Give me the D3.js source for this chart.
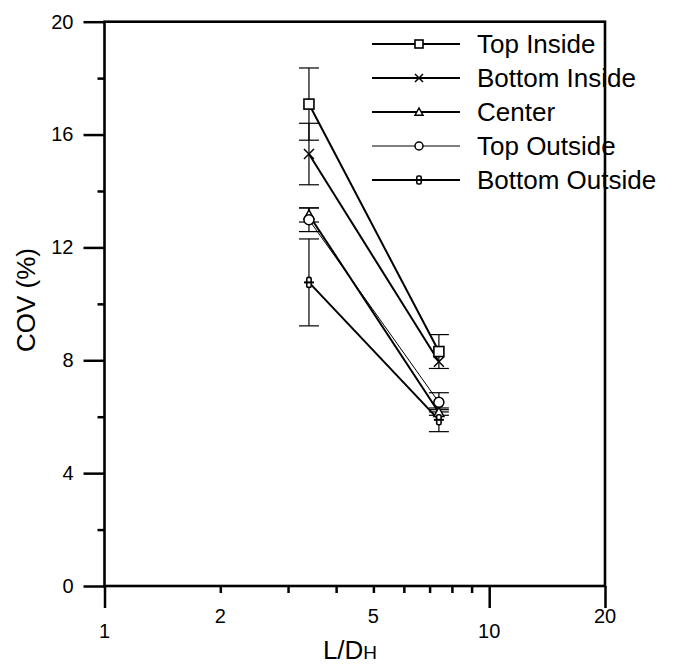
<!DOCTYPE html>
<html><head><meta charset="utf-8">
<script src="https://cdn.jsdelivr.net/npm/d3@7"></script>
<style>body{margin:0;background:#fff}svg{display:block}text{font-family:"Liberation Sans",Arial,sans-serif}</style>
</head><body>
<svg id="c" width="676" height="664"></svg>
<script>
// ---- data ----
const xVals = [3.4, 7.4];
const seriesNames = ["Top Inside","Bottom Inside","Center","Top Outside","Bottom Outside"];
const topInside = [17.08, 8.31];
const topInsideErr = [1.28, 0.6];
const bottomInside = [15.31, 7.95];
const bottomInsideErr = [1.09, 0];
const center = [13.15, 6.15];
const centerErr = [0.25, 0.1];
const topOutside = [12.98, 6.51];
const topOutsideErr = [0.42, 0.34];
const bottomOutside = [10.76, 5.89];
const bottomOutsideErr = [1.54, 0.42];
const xTicksMajor = [1, 10, 20];
const xTicksMinor = [2, 3, 4, 5, 6, 7, 8, 9];
const xLabelsLow = [1, 10];
const xLabelsHigh = [2, 5, 20];
const yTicksMajor = [0, 4, 8, 12, 16, 20];
const yTicksMinor = [2, 6, 10, 14, 18];

const series = [
  {name: seriesNames[0], v: topInside, e: topInsideErr, marker: "square", w: 2},
  {name: seriesNames[1], v: bottomInside, e: bottomInsideErr, marker: "x", w: 2},
  {name: seriesNames[2], v: center, e: centerErr, marker: "triangle", w: 2},
  {name: seriesNames[3], v: topOutside, e: topOutsideErr, marker: "circle", w: 1},
  {name: seriesNames[4], v: bottomOutside, e: bottomOutsideErr, marker: "plus", w: 2}
];

const svg = d3.select("#c");
const L = 104.5, R = 605, T = 21.7, B = 586;
const x = d3.scaleLog().domain([1, 20]).range([L, R]);
const y = d3.scaleLinear().domain([0, 20]).range([B, T]);

// frame
svg.append("rect").attr("x", L).attr("y", T).attr("width", R - L).attr("height", B - T)
  .attr("fill", "none").attr("stroke", "#000").attr("stroke-width", 2.6);

// y axis
const yMaj = svg.append("g").attr("transform", `translate(${L},0)`)
  .call(d3.axisLeft(y).tickValues(yTicksMajor).tickSize(21).tickPadding(10).tickFormat(d3.format("d")));
const yMin = svg.append("g").attr("transform", `translate(${L},0)`)
  .call(d3.axisLeft(y).tickValues(yTicksMinor).tickSize(7).tickFormat(""));
[yMaj, yMin].forEach(g => {
  g.select(".domain").remove();
  g.selectAll("line").attr("stroke", "#000").attr("stroke-width", 2.5);
});
yMaj.selectAll("text").attr("font-size", 20).attr("fill", "#000").attr("font-family", "Liberation Sans, Arial, sans-serif");

// x axis
const xMaj = svg.append("g").attr("transform", `translate(0,${B})`)
  .call(d3.axisBottom(x).tickValues(xTicksMajor).tickSize(22).tickFormat(""));
const xMin = svg.append("g").attr("transform", `translate(0,${B})`)
  .call(d3.axisBottom(x).tickValues(xTicksMinor).tickSize(7).tickFormat(""));
[xMaj, xMin].forEach(g => {
  g.select(".domain").remove();
  g.selectAll("line").attr("stroke", "#000").attr("stroke-width", 2.5);
});
const xl = svg.append("g").attr("font-size", 20).attr("text-anchor", "middle");
xl.selectAll("text.low").data(xLabelsLow).join("text").attr("class", "low")
  .attr("x", d => x(d)).attr("y", B + 52).text(d => d);
xl.selectAll("text.high").data(xLabelsHigh).join("text").attr("class", "high")
  .attr("x", d => x(d)).attr("y", B + 37).text(d => d);

// axis titles
const xt = svg.append("text").attr("x", 350).attr("y", 659).attr("text-anchor", "middle").attr("font-size", 26);
xt.append("tspan").text("L/D");
xt.append("tspan").attr("font-size", 19).text("H");
svg.append("text").attr("transform", "translate(35,300) rotate(-90)").attr("text-anchor", "middle")
  .attr("font-size", 26).text("COV (%)");

// markers
function drawMarker(g, type, cx, cy, s) {
  const h = s / 2;
  if (type === "square") g.append("rect").attr("x", cx - h).attr("y", cy - h).attr("width", s).attr("height", s)
    .attr("fill", "#fff").attr("stroke", "#000").attr("stroke-width", 1.6);
  else if (type === "x") g.append("path").attr("d", `M${cx-h},${cy-h}L${cx+h},${cy+h}M${cx-h},${cy+h}L${cx+h},${cy-h}`)
    .attr("stroke", "#000").attr("stroke-width", 1.5).attr("fill", "none");
  else if (type === "triangle") g.append("path").attr("d", `M${cx},${cy-h}L${cx+h},${cy+h*0.8}L${cx-h},${cy+h*0.8}Z`)
    .attr("fill", "#fff").attr("stroke", "#000").attr("stroke-width", 1.5);
  else if (type === "circle") g.append("circle").attr("cx", cx).attr("cy", cy).attr("r", h)
    .attr("fill", "#fff").attr("stroke", "#000").attr("stroke-width", 1.5);
  else if (type === "plus") {
    g.append("rect").attr("x", cx - 2.2).attr("y", cy - h).attr("width", 4.4).attr("height", s).attr("rx", 1.5)
      .attr("fill", "#fff").attr("stroke", "#000").attr("stroke-width", 1.6);
    g.append("line").attr("x1", cx - h).attr("x2", cx + h).attr("y1", cy).attr("y2", cy)
      .attr("stroke", "#000").attr("stroke-width", 2);
  }
}

const plot = svg.append("g");
// error bars
series.forEach(s => {
  xVals.forEach((xv, i) => {
    if (!s.e[i]) return;
    const cx = x(xv), y1 = y(s.v[i] + s.e[i]), y2 = y(s.v[i] - s.e[i]);
    plot.append("line").attr("x1", cx).attr("x2", cx).attr("y1", y1).attr("y2", y2).attr("stroke", "#000").attr("stroke-width", 1.2);
    [y1, y2].forEach(yy => plot.append("line").attr("x1", cx - 10).attr("x2", cx + 10).attr("y1", yy).attr("y2", yy)
      .attr("stroke", "#000").attr("stroke-width", 1.2));
  });
});
// lines
const line = d3.line().x((d, i) => x(xVals[i])).y(d => y(d));
series.forEach(s => {
  plot.append("path").attr("d", line(s.v)).attr("fill", "none").attr("stroke", "#000").attr("stroke-width", s.w);
});
series.forEach(s => {
  xVals.forEach((xv, i) => drawMarker(plot, s.marker, x(xv), y(s.v[i]), 10));
});

// legend
const lg = svg.append("g");
series.forEach((s, i) => {
  const ly = 44 + i * 34;
  lg.append("line").attr("x1", 372).attr("x2", 460).attr("y1", ly).attr("y2", ly).attr("stroke", "#000").attr("stroke-width", s.w);
  drawMarker(lg, s.marker, 419, ly, 8);
  lg.append("text").attr("x", 477).attr("y", ly).attr("dy", "0.35em").attr("font-size", 26).text(s.name);
});
</script>
</body></html>
